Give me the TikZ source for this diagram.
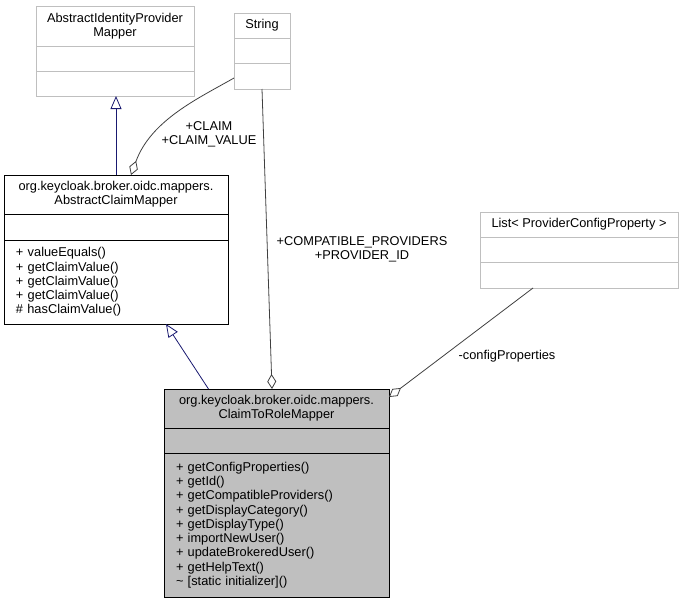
\documentclass[tikz,border=0pt]{standalone}
\usepackage{fontspec}
\setmainfont{Liberation Sans}
\usetikzlibrary{positioning,arrows.meta}
\definecolor{grey75}{HTML}{BFBFBF}
\definecolor{grey25}{HTML}{404040}
\definecolor{midnightblue}{HTML}{191970}
\tikzset{
  umlpart/.style={draw=black, fill=white, line width=0.8pt, inner sep=0pt, outer sep=0pt,
    font=\fontsize{12.8}{14.25}\selectfont},
  umlext/.style={umlpart, draw=grey75},
  umlmain/.style={umlpart, fill=grey75},
  umlops/.style={align=left, inner xsep=12pt, text width=#1},
  inherit/.style={draw=midnightblue, line width=0.8pt, -{Triangle[open, fill=white, length=13pt, width=11pt]}},
  uses/.style={draw=grey25, line width=0.8pt, -{Diamond[open, fill=white, length=15pt, width=9pt]}},
  edgelbl/.style={align=center, inner sep=0pt, font=\fontsize{12.8}{14.25}\selectfont}
}
\begin{document}
\begin{tikzpicture}[x=1pt, y=-1pt]
\useasboundingbox (0,0) rectangle (684,603);

\node[umlext, minimum width=158pt, minimum height=40pt, align=center, anchor=north west] (aipmH) at (36,6) {AbstractIdentityProvider\\Mapper};
\node[umlext, minimum width=158pt, minimum height=25pt, below=0pt of aipmH] (aipmA) {};
\node[umlext, minimum width=158pt, minimum height=25pt, below=0pt of aipmA] (aipmM) {};

\node[umlext, minimum width=56pt, minimum height=25pt, anchor=north west] (strH) at (234,13) {String};
\node[umlext, minimum width=56pt, minimum height=25pt, below=0pt of strH] (strA) {};
\node[umlext, minimum width=56pt, minimum height=26pt, below=0pt of strA] (strM) {};

\node[umlpart, minimum width=224pt, minimum height=39pt, align=center, anchor=north west] (acmH) at (4,175) {org.keycloak.broker.oidc.mappers.\\AbstractClaimMapper};
\node[umlpart, minimum width=224pt, minimum height=26pt, below=0pt of acmH] (acmA) {};
\node[umlpart, umlops=200pt, minimum height=84pt, below=0pt of acmA] (acmM) {+ valueEquals()\\+ getClaimValue()\\+ getClaimValue()\\+ getClaimValue()\\\# hasClaimValue()};

\node[umlmain, minimum width=225pt, minimum height=39pt, align=center, anchor=north west] (ctrmH) at (164,389) {org.keycloak.broker.oidc.mappers.\\ClaimToRoleMapper};
\node[umlmain, minimum width=225pt, minimum height=25pt, below=0pt of ctrmH] (ctrmA) {};
\node[umlmain, umlops=201pt, minimum height=144pt, below=0pt of ctrmA] (ctrmM) {+ getConfigProperties()\\+ getId()\\+ getCompatibleProviders()\\+ getDisplayCategory()\\+ getDisplayType()\\+ importNewUser()\\+ updateBrokeredUser()\\+ getHelpText()\\\textasciitilde{} [static initializer]()};

\node[umlext, minimum width=198pt, minimum height=25pt, anchor=north west] (listH) at (480,212) {List< ProviderConfigProperty >};
\node[umlext, minimum width=198pt, minimum height=25pt, below=0pt of listH] (listA) {};
\node[umlext, minimum width=198pt, minimum height=26pt, below=0pt of listA] (listM) {};

\draw[inherit] (acmH.north) -- (acmH.north |- aipmM.south);
\draw[inherit] ([xshift=-68pt]ctrmH.north) -- ([xshift=50pt]acmM.south);

\draw[uses] ([yshift=-2pt]strM.west) .. controls +(-35,20) and +(20,-55) .. ([xshift=15pt]acmH.north);
\node[edgelbl] (lblClaim) at (209,134) {+CLAIM\\+CLAIM\_VALUE};

\draw[uses] (strM.south) -- ([xshift=-4.5pt]ctrmH.north);
\node[edgelbl] (lblProv) at (362,249) {+COMPATIBLE\_PROVIDERS\\+PROVIDER\_ID};

\draw[uses] ([xshift=-46pt]listM.south) -- ([yshift=11.5pt]ctrmH.east);
\node[edgelbl] (lblCfg) at (507,356) {-configProperties};
\end{tikzpicture}
\end{document}
